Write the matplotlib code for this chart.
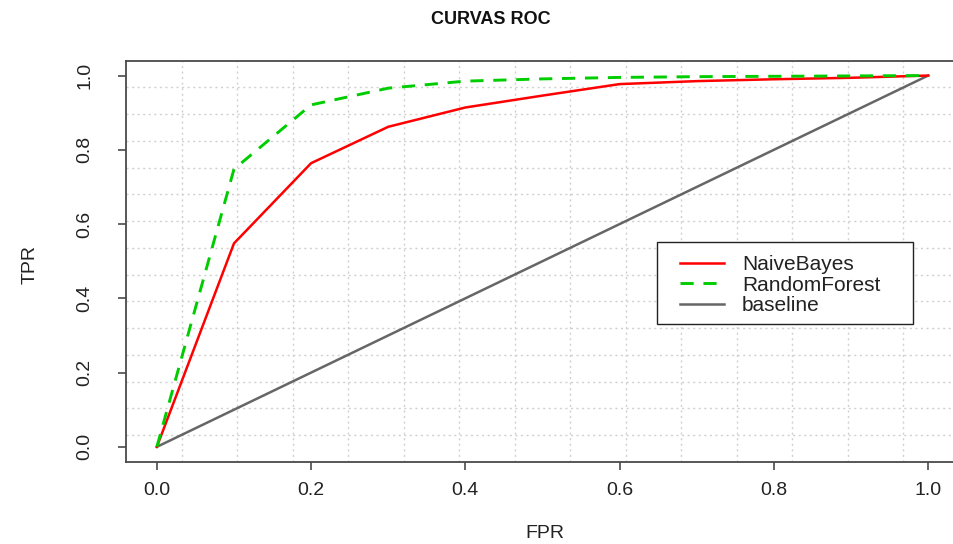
import numpy as np
import matplotlib
matplotlib.use("Agg")
import matplotlib.pyplot as plt
from matplotlib.patches import Rectangle


# =========================
# DATA
# =========================
fpr = [0.0, 0.1, 0.2, 0.3, 0.4, 0.5, 0.6, 0.7, 0.8, 0.9, 1.0]
tpr_nb = [0.0, 0.548, 0.764, 0.862, 0.914, 0.946, 0.977, 0.985, 0.990, 0.994, 1.0]
tpr_rf = [0.0, 0.748, 0.921, 0.966, 0.985, 0.991, 0.995, 0.997, 0.998, 0.999, 1.0]
baseline = [0.0, 1.0]

tick_vals = [0.0, 0.2, 0.4, 0.6, 0.8, 1.0]
tick_labels = ["0.0", "0.2", "0.4", "0.6", "0.8", "1.0"]


# =========================
# STYLE
# =========================
plt.rcParams["font.family"] = ["Liberation Sans", "DejaVu Sans"]
plt.rcParams["lines.scale_dashes"] = False
AXIS_COL = "#4a4a4a"
TEXT_COL = "#222222"
W, H = 954, 544

fig = plt.figure(figsize=(W / 100, H / 100), dpi=100)
ax = fig.add_axes([126 / W, (H - 461.7) / H, 833 / W, 401 / H])

lo, hi = -0.04, 1.04
ax.set_xlim(lo, hi)
ax.set_ylim(lo, hi)

# dotted grid, 15 cells across the plotting range
grid_pos = lo + np.arange(1, 15) * (hi - lo) / 15
for g in grid_pos:
    ax.axvline(g, color="#d0d0d0", lw=1.0, ls=(0, (1.5, 2.5)), zorder=0)
    ax.axhline(g, color="#d0d0d0", lw=1.0, ls=(0, (1.5, 2.5)), zorder=0)

# =========================
# CURVES
# =========================
ax.plot(fpr, tpr_nb, color="#ff0000", lw=1.8, label="NaiveBayes", zorder=3)
ax.plot(fpr, tpr_rf, color="#00cd00", lw=2.1, ls=(0, (9.5, 7.0)),
        label="RandomForest", zorder=3)
ax.plot(baseline, baseline, color="#666666", lw=1.8, label="baseline", zorder=2)

# =========================
# AXES
# =========================
for s in ax.spines.values():
    s.set_color(AXIS_COL)
    s.set_linewidth(1.3)

ax.set_xticks(tick_vals)
ax.set_xticklabels(tick_labels)
ax.set_yticks(tick_vals)
ax.set_yticklabels(tick_labels, rotation=90, va="center")
ax.tick_params(axis="both", direction="out", length=5.5, width=1.2,
               color=AXIS_COL, labelcolor=TEXT_COL, labelsize=14)
ax.tick_params(axis="x", pad=9)
ax.tick_params(axis="y", pad=18)

fig.text(545 / W, 1 - 533 / H, "FPR", ha="center", va="center",
         fontsize=14, color=TEXT_COL)
fig.text(30 / W, 1 - 265 / H, "TPR", ha="center", va="center",
         rotation=90, fontsize=14, color=TEXT_COL)
fig.text(491 / W, 1 - 20 / H, "CURVAS ROC", ha="center", va="center",
         fontsize=13, fontweight="bold", color="#111111")

# legend box drawn separately so its padding can be set freely
box = Rectangle((657 / W, 1 - 324 / H), 256 / W, 82 / H,
                transform=fig.transFigure, facecolor="white",
                edgecolor="#222222", lw=1.0, zorder=4, clip_on=False)
ax.add_patch(box)
leg = ax.legend(loc="upper left", bbox_to_anchor=(680 / W, 1 - 255 / H),
                bbox_transform=fig.transFigure, frameon=False, fontsize=15,
                handlelength=2.1, handletextpad=0.87, labelspacing=0.08,
                borderpad=0, borderaxespad=0)
leg.set_zorder(5)
for t in leg.get_texts():
    t.set_color(TEXT_COL)

fig.savefig("out.png", dpi=100)
